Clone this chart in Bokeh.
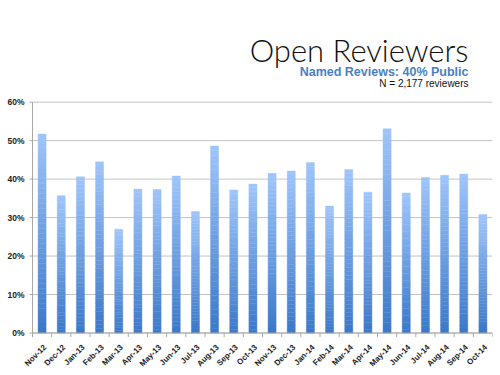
import math
import numpy as np
from bokeh.plotting import figure
from bokeh.core.properties import value
from bokeh.models import Range1d, Label, LabelSet, ColumnDataSource
from bokeh.embed import file_html
from bokeh.resources import INLINE

months = ["Nov-12", "Dec-12", "Jan-13", "Feb-13", "Mar-13", "Apr-13", "May-13", "Jun-13",
          "Jul-13", "Aug-13", "Sep-13", "Oct-13", "Nov-13", "Dec-13", "Jan-14", "Feb-14",
          "Mar-14", "Apr-14", "May-14", "Jun-14", "Jul-14", "Aug-14", "Sep-14", "Oct-14"]
public_share = [0.517, 0.357, 0.406, 0.445, 0.270, 0.374, 0.373, 0.408,
                0.316, 0.486, 0.372, 0.387, 0.415, 0.421, 0.443, 0.330,
                0.425, 0.366, 0.531, 0.364, 0.404, 0.410, 0.413, 0.308]
y_ticks = [0.0, 0.1, 0.2, 0.3, 0.4, 0.5, 0.6]
y_tick_labels = ["0%", "10%", "20%", "30%", "40%", "50%", "60%"]

title_text = "Open Reviewers"
subtitle_text = "Named Reviews: 40% Public"
note_text = "N = 2,177 reviewers"

W, H = 500, 375
plot_left_px, plot_right_px = 32, 492
y0_px = 332.5            # pixel row of 0%
top_border = 10
px_per_unit = 384.7
n = len(months)
px_per_cat = (plot_right_px - plot_left_px) / n
x_start = -plot_left_px / px_per_cat
y_end = (y0_px - top_border) / px_per_unit
y_start = -(H - y0_px) / px_per_unit

p = figure(width=W, height=H, output_backend="svg", toolbar_location=None,
           x_range=Range1d(x_start, n), y_range=Range1d(y_start, y_end),
           min_border_left=0, min_border_right=W - plot_right_px,
           min_border_top=top_border, min_border_bottom=0)
p.outline_line_color = None
p.background_fill_color = "white"
p.xaxis.visible = False
p.yaxis.visible = False
p.xgrid.visible = False
p.ygrid.visible = False

axis_col = "#a8a8a8"
grid_col = "#c4c4c4"

# horizontal grid lines at the y ticks
p.segment(x0=[0] * len(y_ticks), x1=[n] * len(y_ticks), y0=y_ticks, y1=y_ticks,
          line_color=grid_col, line_width=1)

# gradient bars (each bar built from stacked slices, light at top, dark at bottom)
vals = np.array(public_share)
xs = np.arange(n) + 0.5
N = 40
c_bot = np.array([0x3b, 0x78, 0xc9])
c_top = np.array([0xa0, 0xc5, 0xfa])
bx, bb, bt, bc = [], [], [], []
for k in range(N):
    f = (k + 0.5) / N
    c = c_bot + (c_top - c_bot) * f
    col = "#%02x%02x%02x" % tuple(int(round(v)) for v in c)
    bx.extend(xs)
    bb.extend(vals * k / N)
    bt.extend(vals * (k + 1) / N)
    bc.extend([col] * n)
src = ColumnDataSource(dict(x=bx, bottom=bb, top=bt, color=bc))
p.vbar(x="x", bottom="bottom", top="top", width=0.42, fill_color="color",
       line_color="color", line_width=0.4, source=src)

# y axis: line, outward ticks, labels
p.segment(x0=[0], x1=[0], y0=[y_ticks[0]], y1=[y_ticks[-1]], line_color=axis_col, line_width=1)
ytl = 3 / px_per_cat
p.segment(x0=[-ytl] * len(y_ticks), x1=[0] * len(y_ticks), y0=y_ticks, y1=y_ticks,
          line_color=axis_col, line_width=1)
ylab_src = ColumnDataSource(dict(x=[0.0] * len(y_ticks), y=y_ticks, text=y_tick_labels))
p.add_layout(LabelSet(x="x", y="y", text="text", source=ylab_src, x_offset=-8,
                      text_align="right", text_baseline="middle",
                      text_font=value("Liberation Sans"), text_font_style=value("bold"),
                      text_font_size=value("8.5px"), text_color=value("#222222")))

# category axis at 0% with small dividers between months
p.segment(x0=[0], x1=[n], y0=[0], y1=[0], line_color=axis_col, line_width=1)
edges = list(range(n + 1))
xtl = 4 / px_per_unit
p.segment(x0=edges, y0=[0] * len(edges), x1=edges, y1=[-xtl] * len(edges),
          line_color=axis_col, line_width=1)

# rotated month labels, ending at each bar's position
lab_src = ColumnDataSource(dict(x=list(xs), y=[-13 / px_per_unit] * n, text=months))
p.add_layout(LabelSet(x="x", y="y", text="text", source=lab_src,
                      angle=math.pi / 4, text_align="right", text_baseline="middle",
                      x_offset=3,
                      text_font=value("Liberation Sans"), text_font_style=value("bold"),
                      text_font_size=value("8px"), text_color=value("#222222")))

# titles (right aligned)
x_right = (468 - plot_left_px) / px_per_cat
p.add_layout(Label(x=x_right, y=(y0_px - 49) / px_per_unit, text=title_text,
                   text_align="right", text_baseline="alphabetic",
                   text_font="'Lato Light', Lato", text_font_size="31px",
                   text_color="#111111"))
p.add_layout(Label(x=x_right, y=(y0_px - 71.5) / px_per_unit, text=subtitle_text,
                   text_align="right", text_baseline="alphabetic",
                   text_font="Liberation Sans", text_font_style="bold",
                   text_font_size="12.5px", text_color="#4a7fc6"))
p.add_layout(Label(x=x_right, y=(y0_px - 83) / px_per_unit, text=note_text,
                   text_align="right", text_baseline="alphabetic",
                   text_font="Liberation Sans", text_font_size="10px",
                   text_color="#111111"))

open("out.html", "w").write(file_html(p, INLINE))
